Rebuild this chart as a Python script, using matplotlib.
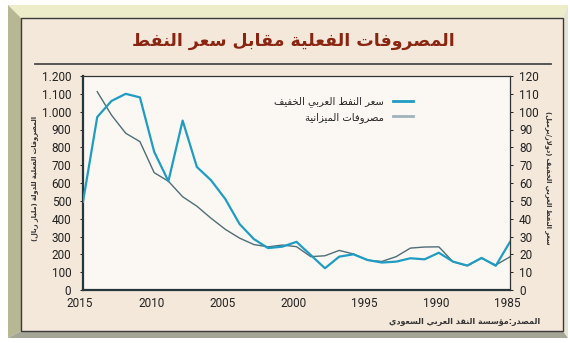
import matplotlib
matplotlib.use('Agg')
import matplotlib.pyplot as plt
from matplotlib.patches import Polygon, Rectangle
from matplotlib.lines import Line2D
from matplotlib.transforms import ScaledTranslation
import numpy as np

years = [2015, 2014, 2013, 2012, 2011, 2010, 2009, 2008, 2007, 2006, 2005,
         2004, 2003, 2002, 2001, 2000, 1999, 1998, 1997, 1996, 1995,
         1994, 1993, 1992, 1991, 1990, 1989, 1988, 1987, 1986, 1985]
# Arab Light crude, USD per barrel
oil_price = [49.5, 97.0, 106.0, 110.0, 108.0, 77.5, 61.0, 95.0, 69.0, 61.5, 51.0,
             37.0, 28.6, 23.5, 24.3, 27.0, 19.6, 12.2, 18.7, 20.0, 16.8,
             15.4, 15.9, 17.8, 17.2, 20.9, 15.9, 13.7, 18.0, 13.6, 27.0]
# actual government spending, billion riyals (no figure for 2015)
expenditure = [np.nan, 1112, 981, 879, 832, 658, 610, 523, 470, 402, 340,
               291, 255, 242, 252, 243, 187, 192, 222, 202, 167,
               160, 187, 235, 241, 242, 158, 136, 178, 140, 186]

left_ticks = [0, 100, 200, 300, 400, 500, 600, 700, 800, 900, 1000, 1100, 1200]
right_ticks = [0, 10, 20, 30, 40, 50, 60, 70, 80, 90, 100, 110, 120]
x_ticks = [2015, 2010, 2005, 2000, 1995, 1990, 1985]

title = 'المصروفات الفعلية مقابل سعر النفط'
left_label = 'المصروفات الفعلية للدولة (مليار ريال)'
right_label = 'سعر النفط العربي الخفيف (دولار/برميل)'
oil_name = 'سعر النفط العربي الخفيف'
spend_name = 'مصروفات الميزانية'
source = 'المصدر:مؤسسة النقد العربي السعودي'

# Arabic letters -> (first presentation form, number of forms)
AR = {
    'ء': (0xFE80, 1), 'آ': (0xFE81, 2), 'أ': (0xFE83, 2), 'ؤ': (0xFE85, 2),
    'إ': (0xFE87, 2), 'ئ': (0xFE89, 4), 'ا': (0xFE8D, 2), 'ب': (0xFE8F, 4),
    'ة': (0xFE93, 2), 'ت': (0xFE95, 4), 'ث': (0xFE99, 4), 'ج': (0xFE9D, 4),
    'ح': (0xFEA1, 4), 'خ': (0xFEA5, 4), 'د': (0xFEA9, 2), 'ذ': (0xFEAB, 2),
    'ر': (0xFEAD, 2), 'ز': (0xFEAF, 2), 'س': (0xFEB1, 4), 'ش': (0xFEB5, 4),
    'ص': (0xFEB9, 4), 'ض': (0xFEBD, 4), 'ط': (0xFEC1, 4), 'ظ': (0xFEC5, 4),
    'ع': (0xFEC9, 4), 'غ': (0xFECD, 4), 'ف': (0xFED1, 4), 'ق': (0xFED5, 4),
    'ك': (0xFED9, 4), 'ل': (0xFEDD, 4), 'م': (0xFEE1, 4), 'ن': (0xFEE5, 4),
    'ه': (0xFEE9, 4), 'و': (0xFEED, 2), 'ى': (0xFEEF, 2), 'ي': (0xFEF1, 4),
}
LAM_ALEF = {'آ': 0xFEF5, 'أ': 0xFEF7, 'إ': 0xFEF9, 'ا': 0xFEFB}


def shape(text):
    # join letters into their contextual forms, then lay out right to left
    out = []
    i = 0
    while i < len(text):
        ch = text[i]
        if ch not in AR:
            out.append(ch)
            i += 1
            continue
        prev = text[i - 1] if i > 0 else ''
        nxt = text[i + 1] if i + 1 < len(text) else ''
        joins_prev = prev in AR and AR[prev][1] == 4
        if ch == 'ل' and nxt in LAM_ALEF:
            out.append(chr(LAM_ALEF[nxt] + int(joins_prev)))
            i += 2
            continue
        base, nforms = AR[ch]
        joins_next = nforms == 4 and nxt in AR and nxt != 'ء'
        if nforms == 1:
            form = 0
        elif joins_prev and joins_next:
            form = 3
        elif joins_next:
            form = 2
        elif joins_prev:
            form = 1
        else:
            form = 0
        out.append(chr(base + form))
        i += 1
    return ''.join(out)[::-1].translate(str.maketrans('()', ')('))


W, H = 570, 343


def fx(x):
    return x / W


def fy(y):
    return 1 - y / H


num_font = ['Liberation Sans Narrow', 'Roboto', 'DejaVu Sans']

fig = plt.figure(figsize=(W / 100, H / 100), dpi=100)
fig.patch.set_facecolor('white')

# bevelled frame
frame = [
    ([(8, 5), (568, 5), (563, 18), (21, 18)], '#eeedc9'),
    ([(8, 5), (21, 18), (21, 331), (8, 338)], '#b7b793'),
    ([(8, 338), (21, 331), (563, 331), (568, 338)], '#a5a595'),
    ([(568, 5), (563, 18), (563, 331), (568, 338)], '#e4e4d2'),
]
for pts, col in frame:
    fig.add_artist(Polygon([(fx(x), fy(y)) for x, y in pts], closed=True,
                           facecolor=col, edgecolor='none',
                           transform=fig.transFigure, zorder=-3))
fig.add_artist(Rectangle((fx(21), fy(331)), fx(563) - fx(21), fy(18) - fy(331),
                         facecolor='#f4e8da', edgecolor='#3a3a3a', lw=1.0,
                         transform=fig.transFigure, zorder=-2))

fig.text(fx(293), fy(41), shape(title), ha='center', va='center',
         fontsize=12.5, fontweight='bold', color='#8a2512')
fig.add_artist(Line2D([fx(35), fx(551)], [fy(64), fy(64)], color='#4a4a4a',
                      lw=1.3, transform=fig.transFigure))

ax = fig.add_axes([fx(83), fy(290), fx(510) - fx(83), fy(76) - fy(290)])
ax.set_facecolor('#fbf8f4')
ax2 = ax.twinx()

ax.plot(years, expenditure, color='#4f6d76', lw=1.0, zorder=2)
ax2.plot(years, oil_price, color='#1f9cc4', lw=1.6, zorder=3)

ax.set_xlim(2015, 1985)
ax.set_ylim(0, 1200)
ax2.set_ylim(0, 120)

ax.set_xticks(x_ticks)
ax.set_xticklabels([str(y) for y in x_ticks], family=num_font, fontsize=8.5)
ax.set_yticks(left_ticks)
ax.set_yticklabels([f'{v:,}'.replace(',', '.') for v in left_ticks],
                   family=num_font, fontsize=8.5)
ax2.set_yticks(right_ticks)
ax2.set_yticklabels([str(v) for v in right_ticks], family=num_font, fontsize=8.5)

ax.tick_params(axis='x', length=0, pad=5, colors='#222222')
ax.tick_params(axis='y', length=2.5, width=0.7, pad=6, colors='#222222')
ax2.tick_params(axis='y', length=2.5, width=0.7, pad=4, colors='#222222')

# year labels sit a little left of their ticks
shift = ScaledTranslation(-3 / 100, 0, fig.dpi_scale_trans)
for lab in ax.get_xticklabels():
    lab.set_transform(lab.get_transform() + shift)

for name in ['left', 'bottom']:
    ax.spines[name].set_linewidth(1.6)
    ax.spines[name].set_color('#26363a')
    ax2.spines[name].set_visible(False)
ax.spines['top'].set_linewidth(0.9)
ax.spines['top'].set_color('#333333')
ax.spines['right'].set_visible(False)
ax2.spines['top'].set_visible(False)
ax2.spines['right'].set_linewidth(0.9)
ax2.spines['right'].set_color('#333333')

fig.text(fx(35), fy(178), shape(left_label), rotation=90, ha='center',
         va='center', fontsize=4.8, fontweight='bold', color='#333333')
fig.text(fx(548), fy(178), shape(right_label), rotation=-90, ha='center',
         va='center', fontsize=4.8, fontweight='bold', color='#333333')

handles = [Line2D([], [], color='#1f9cc4', lw=2.0),
           Line2D([], [], color='#9fb4ba', lw=2.0)]
ax2.legend(handles, [shape(oil_name), shape(spend_name)], loc='upper right',
           bbox_to_anchor=(fx(413), fy(96)), bbox_transform=fig.transFigure,
           frameon=False, markerfirst=False, fontsize=7.2, handlelength=2.0,
           handletextpad=0.9, labelspacing=0.5, borderpad=0, borderaxespad=0,
           labelcolor='#222222')

fig.text(fx(540), fy(322), shape(source), ha='right', va='center',
         fontsize=5.8, fontweight='bold', color='#333333')

fig.savefig('out.png', dpi=100)
